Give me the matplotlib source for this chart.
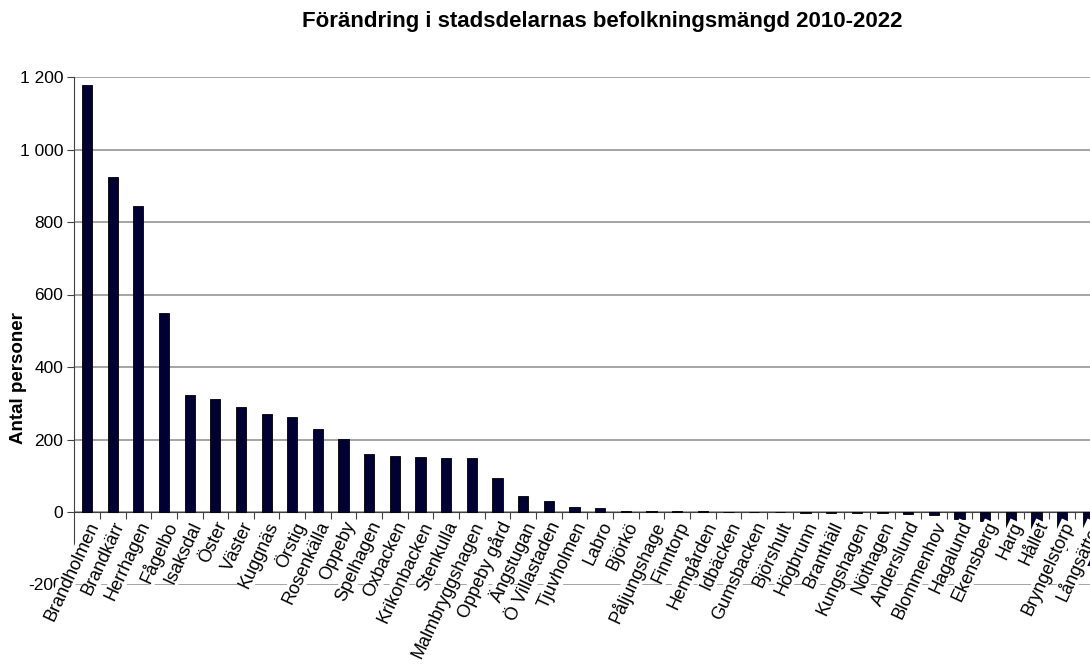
"""
Förändring i stadsdelarnas befolkningsmängd 2010-2022, stapeldiagram.
"""

import numpy as np
import matplotlib
matplotlib.use('Agg')
import matplotlib.pyplot as plt
from matplotlib.ticker import FuncFormatter

plt.rcParams['font.family'] = ['Liberation Sans', 'DejaVu Sans']

title = 'Förändring i stadsdelarnas befolkningsmängd 2010-2022'
ylabel = 'Antal personer'

areas = ['Brandholmen', 'Brandkärr', 'Herrhagen', 'Fågelbo', 'Isaksdal', 'Öster',
         'Väster', 'Kuggnäs', 'Örstig', 'Rosenkälla', 'Oppeby', 'Spelhagen',
         'Oxbacken', 'Krikonbacken', 'Stenkulla', 'Malmbryggshagen', 'Oppeby gård',
         'Ängstugan', 'Ö Villastaden', 'Tjuvholmen', 'Labro', 'Björkö',
         'Påljungshage', 'Finntorp', 'Hemgården', 'Idbäcken', 'Gumsbacken',
         'Björshult', 'Högbrunn', 'Branthäll', 'Kungshagen', 'Nöthagen',
         'Anderslund', 'Blommenhov', 'Hagalund', 'Ekensberg', 'Harg', 'Hållet',
         'Bryngelstorp', 'Långsätter']
change = [1177, 925, 844, 548, 323, 311, 290, 269, 261, 228, 201, 159,
          155, 153, 150, 150, 95, 44, 31, 15, 12, 4,
          4, 4, 4, 0, 0, 0, -3, -3, -3, -4,
          -5, -7, -20, -25, -60, -70, -105, -145]
yticks = [-200, 0, 200, 400, 600, 800, 1000, 1200]

W, H = 1090, 669
fig = plt.figure(figsize=(W / 100, H / 100), dpi=100)
# plot area runs past the right edge of the picture, as in the original
ax = fig.add_axes([74.2 / W, (H - 584.5) / H, 40 * 25.66 / W, (584.5 - 77) / H])

x = np.arange(len(areas))
ax.bar(x, change, width=0.4, color='#000033', edgecolor='black', lw=0.6, zorder=3)

ax.set_xlim(-0.5, len(areas) - 0.5)
ax.set_ylim(-200, 1200)
ax.set_yticks(yticks)
ax.yaxis.set_major_formatter(FuncFormatter(lambda v, p: f'{int(v):,}'.replace(',', ' ')))
ax.tick_params(axis='y', labelsize=12.5, length=5, width=0.8, color='#404040', pad=3)
ax.yaxis.grid(True, color='#8c8c8c', lw=1.1)
ax.yaxis.set_zorder(0.5)

# category axis at y = 0, tick marks between categories
ax.spines['bottom'].set_position(('data', 0))
ax.spines['bottom'].set_color('#404040')
ax.spines['left'].set_color('#404040')
ax.spines['top'].set_visible(False)
ax.spines['right'].set_visible(False)
ax.set_xticks(x)
ax.set_xticks(x[:-1] + 0.5, minor=True)
ax.set_xticklabels(areas, rotation=65, ha='right', va='top', rotation_mode='anchor',
                   fontsize=13)
ax.tick_params(axis='x', which='major', length=0, pad=5)
ax.tick_params(axis='x', which='minor', length=5, width=0.8, color='#404040')
for lbl in ax.get_xticklabels():
    lbl.set_bbox(dict(facecolor='white', edgecolor='none', pad=0.3))
ax.xaxis.set_zorder(4)

fig.text(602 / W, 1 - 22 / H, title, ha='center', va='center', fontsize=16,
         fontweight='bold')
fig.text(19 / W, 1 - 378 / H, ylabel, rotation=90, ha='center', va='center',
         fontsize=13.5, fontweight='bold')

fig.savefig('out.png', dpi=100)
